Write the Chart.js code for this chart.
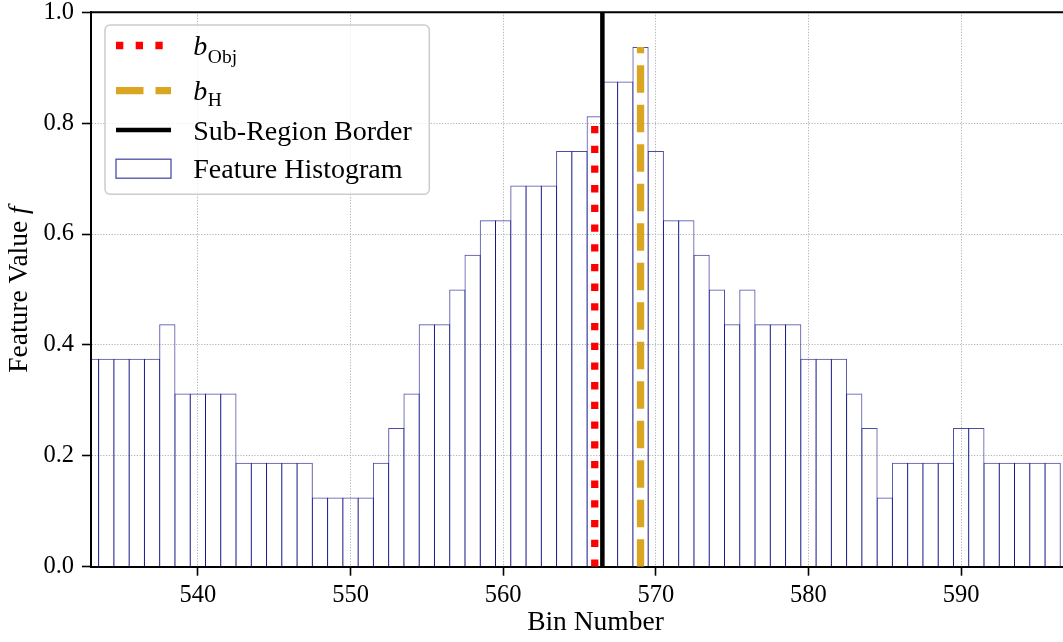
<!DOCTYPE html>
<html>
<head>
<meta charset="utf-8">
<title>Feature Histogram</title>
<script src="https://cdn.jsdelivr.net/npm/chart.js@4/dist/chart.umd.min.js"></script>
<style>
  html, body { margin: 0; padding: 0; background: #fff; overflow: hidden; }
  #wrap { position: relative; width: 1100px; height: 642px; }
</style>
</head>
<body>
<div id="wrap"><canvas id="chart"></canvas></div>
<script>
// histogram bins and their feature values
const bins = [
  533, 534, 535, 536, 537, 538, 539, 540, 541, 542, 543, 544, 545, 546, 547, 548,
  549, 550, 551, 552, 553, 554, 555, 556, 557, 558, 559, 560, 561, 562, 563, 564,
  565, 566, 567, 568, 569, 570, 571, 572, 573, 574, 575, 576, 577, 578, 579, 580,
  581, 582, 583, 584, 585, 586, 587, 588, 589, 590, 591, 592, 593, 594, 595, 596,
];
const featureValues = [
  0.375, 0.375, 0.375, 0.375, 0.375, 0.4375, 0.3125, 0.3125, 0.3125, 0.3125, 0.1875, 0.1875, 0.1875, 0.1875, 0.1875, 0.125,
  0.125, 0.125, 0.125, 0.1875, 0.25, 0.3125, 0.4375, 0.4375, 0.5, 0.5625, 0.625, 0.625, 0.6875, 0.6875, 0.6875, 0.75,
  0.75, 0.8125, 0.875, 0.875, 0.9375, 0.75, 0.625, 0.625, 0.5625, 0.5, 0.4375, 0.5, 0.4375, 0.4375, 0.4375, 0.375,
  0.375, 0.375, 0.3125, 0.25, 0.125, 0.1875, 0.1875, 0.1875, 0.1875, 0.25, 0.25, 0.1875, 0.1875, 0.1875, 0.1875, 0.1875,
];

// marker positions
const bObj = 566;
const bH = 569;
const subRegionBorder = 566.5;

const xTicks = [540, 550, 560, 570, 580, 590];
const yTicks = [0, 0.2, 0.4, 0.6, 0.8, 1.0];

const SERIF = '"Liberation Serif", "Times New Roman", serif';

const valueAt = (bin) => featureValues[bins.indexOf(bin)];

const legendEntries = [
  { main: 'b', sub: 'Obj', subDrop: 8.3 },
  { main: 'b', sub: 'H', subDrop: 5.5 },
  { main: 'Sub-Region Border' },
  { main: 'Feature Histogram' },
];

// top spine (matplotlib-style frame)
const topSpine = {
  id: 'topSpine',
  afterDatasetsDraw(chart) {
    const { ctx, chartArea: a } = chart;
    ctx.save();
    ctx.strokeStyle = '#000';
    ctx.lineWidth = 2;
    ctx.beginPath();
    ctx.moveTo(a.left - 1, a.top);
    ctx.lineTo(a.right, a.top);
    ctx.stroke();
    ctx.restore();
  },
};

// y axis title with an italic variable name
const yTitle = {
  id: 'yTitle',
  afterDraw(chart) {
    const { ctx, chartArea: a } = chart;
    const plain = 'Feature Value ';
    ctx.save();
    ctx.translate(a.left - 64.5, (a.top + a.bottom) / 2);
    ctx.rotate(-Math.PI / 2);
    ctx.fillStyle = '#000';
    ctx.textBaseline = 'alphabetic';
    ctx.font = `27.5px ${SERIF}`;
    const w1 = ctx.measureText(plain).width;
    ctx.font = `italic 27.5px ${SERIF}`;
    const w2 = ctx.measureText('f').width;
    const x = -(w1 + w2) / 2;
    ctx.font = `27.5px ${SERIF}`;
    ctx.fillText(plain, x, 0);
    ctx.font = `italic 27.5px ${SERIF}`;
    ctx.fillText('f', x + w1, 0);
    ctx.restore();
  },
};

// legend box with subscripted labels
const legendBox = {
  id: 'legendBox',
  afterDraw(chart) {
    const { ctx, chartArea: a } = chart;
    const sets = chart.data.datasets;
    const x0 = a.left + 14;
    const y0 = a.top + 12.7;
    const rowMid = [20.5, 65.7, 105, 143.7];
    const rowBase = [30, 75, 115, 152.5];
    const hx = x0 + 11;
    const hw = 55;
    const tx = x0 + 88.3;

    ctx.save();
    ctx.beginPath();
    ctx.roundRect(x0, y0, 324.3, 169.3, 5);
    ctx.fillStyle = 'rgba(255,255,255,0.8)';
    ctx.fill();
    ctx.strokeStyle = '#cccccc';
    ctx.lineWidth = 1.5;
    ctx.stroke();

    sets.forEach((ds, i) => {
      const cy = y0 + rowMid[i];
      if (ds.type === 'line') {
        ctx.beginPath();
        ctx.setLineDash(ds.borderDash || []);
        ctx.lineWidth = ds.borderWidth;
        ctx.strokeStyle = ds.borderColor;
        ctx.moveTo(hx, cy);
        ctx.lineTo(hx + hw, cy);
        ctx.stroke();
        ctx.setLineDash([]);
      } else {
        ctx.fillStyle = '#fff';
        ctx.fillRect(hx, cy - 9.5, hw, 19);
        ctx.strokeStyle = ds.borderColor;
        ctx.lineWidth = 1.3;
        ctx.strokeRect(hx, cy - 9.5, hw, 19);
      }

      const entry = legendEntries[i];
      const by = y0 + rowBase[i];
      ctx.fillStyle = '#000';
      ctx.textBaseline = 'alphabetic';
      if (entry.sub) {
        ctx.font = `italic 28px ${SERIF}`;
        ctx.fillText(entry.main, tx, by);
        const w = ctx.measureText(entry.main).width;
        ctx.font = `19.5px ${SERIF}`;
        ctx.fillText(entry.sub, tx + w + 0.5, by + entry.subDrop);
      } else {
        ctx.font = `28px ${SERIF}`;
        ctx.fillText(entry.main, tx, by);
      }
    });
    ctx.restore();
  },
};

const tickFont = { family: SERIF, size: 24.5 };
const gridColor = '#a8a8a8';

const chart = new Chart(document.getElementById('chart'), {
  type: 'bar',
  data: {
    datasets: [
      {
        type: 'line',
        label: 'b_Obj',
        data: [{ x: bObj, y: 0 }, { x: bObj, y: valueAt(bObj) }],
        borderColor: '#ff0000',
        borderWidth: 7.3,
        borderDash: [7.3, 12.4],
        pointRadius: 0,
        fill: false,
        order: 0,
      },
      {
        type: 'line',
        label: 'b_H',
        data: [{ x: bH, y: 0 }, { x: bH, y: valueAt(bH) }],
        borderColor: '#daa520',
        borderWidth: 7.3,
        borderDash: [27.5, 12],
        pointRadius: 0,
        fill: false,
        order: 0,
      },
      {
        type: 'line',
        label: 'Sub-Region Border',
        data: [{ x: subRegionBorder, y: 0 }, { x: subRegionBorder, y: 1 }],
        borderColor: '#000000',
        borderWidth: 4.5,
        pointRadius: 0,
        fill: false,
        order: 0,
      },
      {
        type: 'bar',
        label: 'Feature Histogram',
        data: bins.map((b, i) => ({ x: b, y: featureValues[i] })),
        backgroundColor: 'rgba(0,0,0,0)',
        borderColor: 'rgba(0,0,128,0.7)',
        borderWidth: 1,
        borderSkipped: 'start',
        inflateAmount: 0,
        categoryPercentage: 1,
        barPercentage: 1.065,
        order: 1,
      },
    ],
  },
  options: {
    responsive: true,
    maintainAspectRatio: false,
    animation: false,
    layout: { padding: { top: 12.3, left: 0, right: 0, bottom: 0 } },
    plugins: {
      legend: { display: false },
      tooltip: { enabled: false },
    },
    scales: {
      x: {
        type: 'linear',
        min: 533,
        max: 599.1,
        offset: false,
        afterBuildTicks: (s) => { s.ticks = xTicks.map((v) => ({ value: v })); },
        afterFit: (s) => { s.height = 75.3; s.paddingLeft = 0; s.paddingRight = 0; },
        grid: {
          offset: false,
          color: gridColor,
          lineWidth: 0.9,
          tickColor: '#000',
          tickWidth: 1.6,
          tickLength: 9,
          tickBorderDash: [],
        },
        border: { color: '#000', width: 2, dash: [1.2, 1.6] },
        ticks: {
          color: '#000',
          font: tickFont,
          padding: 5,
          maxRotation: 0,
          autoSkip: false,
        },
        title: {
          display: true,
          text: 'Bin Number',
          color: '#000',
          font: { family: SERIF, size: 27.5, lineHeight: 1 },
          padding: { top: 0, bottom: 5 },
        },
      },
      y: {
        min: 0,
        max: 1,
        afterBuildTicks: (s) => { s.ticks = yTicks.map((v) => ({ value: v })); },
        afterFit: (s) => { s.width = 91; s.paddingTop = 0; s.paddingBottom = 0; },
        grid: {
          color: gridColor,
          lineWidth: 0.9,
          tickColor: '#000',
          tickWidth: 1.6,
          tickLength: 9,
          tickBorderDash: [],
        },
        border: { color: '#000', width: 2, dash: [1.2, 1.6] },
        ticks: {
          color: '#000',
          font: tickFont,
          padding: 8,
          callback: (v) => Number(v).toFixed(1),
        },
      },
    },
  },
  plugins: [topSpine, yTitle, legendBox],
});
</script>
</body>
</html>
